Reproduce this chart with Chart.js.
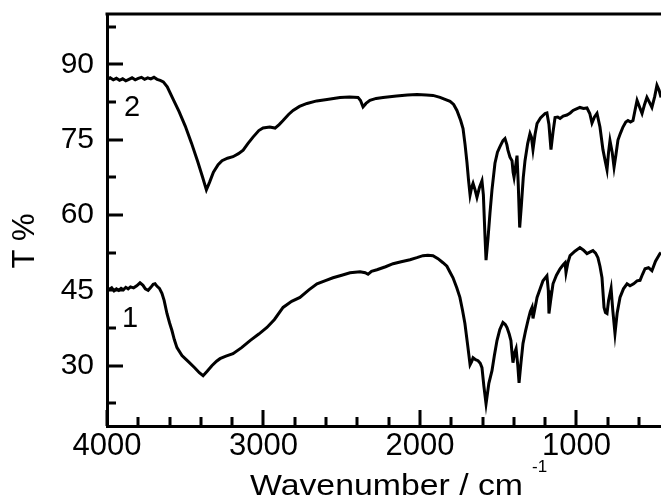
<!DOCTYPE html>
<html>
<head>
<meta charset="utf-8">
<title>IR spectra</title>
<script src="https://cdn.jsdelivr.net/npm/chart.js@4.4.1/dist/chart.umd.min.js"></script>
<style>
  html, body { margin: 0; padding: 0; background: #fff; }
  #wrap { width: 661px; height: 501px; }
</style>
</head>
<body>
<div id="wrap"><canvas id="ir"></canvas></div>
<script>
// spectrum 2 (upper)
const wn2 = [4000, 3980, 3960, 3940, 3920, 3900, 3880, 3860, 3840, 3820, 3800, 3780, 3760, 3740, 3720, 3700, 3680, 3660,
  3640, 3615, 3580, 3540, 3500, 3460, 3420, 3390, 3365, 3345, 3320, 3290, 3265, 3230, 3195, 3160, 3130, 3100, 3067, 3030,
  3003, 2960, 2926, 2900, 2875, 2840, 2811, 2770, 2722, 2660, 2594, 2511, 2450, 2396, 2380, 2364, 2345, 2320, 2280, 2236,
  2150, 2080, 2019, 1960, 1917, 1872, 1840, 1808, 1785, 1764, 1740, 1725, 1712, 1700, 1690, 1680, 1670, 1661, 1648, 1636,
  1620, 1604, 1595, 1585, 1578, 1565, 1553, 1540, 1521, 1505, 1489, 1470, 1457, 1445, 1438, 1425, 1412, 1405, 1399, 1390,
  1380, 1372, 1363, 1352, 1340, 1329, 1312, 1297, 1288, 1278, 1265, 1252, 1230, 1201, 1189, 1176, 1163, 1150, 1137, 1120,
  1105, 1085, 1061, 1040, 1022, 1000, 978, 955, 933, 915, 901, 885, 869, 850, 831, 815, 805, 795, 786, 772, 760, 748, 735,
  720, 703, 685, 671, 655, 639, 625, 613, 597, 581, 565, 550, 535, 518, 500, 486, 472, 460];
const t2 = [87.0, 87.3, 86.9, 87.2, 86.8, 87.1, 86.7, 87.0, 87.3, 86.9, 87.2, 87.4, 87.0, 87.3, 87.1, 87.4, 87.0, 86.8,
  86.5, 85.5, 83.2, 80.6, 77.7, 74.3, 70.6, 67.6, 65.0, 66.5, 68.5, 70.0, 70.8, 71.3, 71.6, 72.2, 72.9, 74.2, 75.5, 76.8,
  77.3, 77.5, 77.3, 78.0, 78.8, 80.0, 80.8, 81.6, 82.2, 82.7, 83.0, 83.4, 83.5, 83.4, 82.8, 81.5, 82.2, 82.8, 83.2, 83.4,
  83.7, 83.9, 84.0, 83.9, 83.8, 83.4, 83.0, 82.6, 82.0, 80.8, 78.8, 77.2, 74.0, 70.5, 67.0, 64.0, 65.5, 66.3, 65.0, 63.5,
  65.5, 66.8, 64.0, 56.0, 51.0, 55.5, 60.3, 65.0, 70.3, 72.5, 73.6, 74.8, 75.2, 74.0, 72.9, 71.5, 70.8, 68.5, 67.5, 69.5,
  71.8, 66.0, 57.5, 62.0, 67.5, 70.8, 74.2, 76.2, 75.5, 73.0, 76.0, 78.2, 79.3, 80.2, 80.3, 78.0, 73.0, 76.5, 79.4, 79.5,
  79.2, 79.7, 79.9, 80.3, 80.8, 81.1, 81.4, 81.2, 81.3, 80.2, 78.3, 79.5, 80.2, 77.5, 73.0, 70.5, 69.0, 72.5, 74.8, 72.5,
  69.5, 72.0, 74.9, 76.2, 77.5, 78.5, 78.8, 78.5, 78.8, 81.0, 82.8, 81.5, 80.2, 82.0, 83.4, 82.5, 81.4, 83.6, 85.8, 84.8,
  83.4];

// spectrum 1 (lower)
const wn1 = [4000, 3985, 3970, 3955, 3940, 3925, 3910, 3895, 3880, 3865, 3850, 3830, 3810, 3789, 3770, 3755, 3737, 3720,
  3705, 3693, 3680, 3665, 3649, 3635, 3617, 3600, 3585, 3570, 3553, 3521, 3480, 3440, 3410, 3386, 3360, 3330, 3300, 3278,
  3240, 3195, 3140, 3086, 3030, 2978, 2930, 2875, 2820, 2767, 2710, 2658, 2600, 2556, 2500, 2447, 2383, 2350, 2332, 2310,
  2275, 2220, 2172, 2120, 2064, 2020, 1981, 1950, 1917, 1885, 1853, 1828, 1808, 1789, 1765, 1745, 1728, 1713, 1695, 1680,
  1670, 1661, 1645, 1629, 1615, 1604, 1592, 1578, 1560, 1540, 1525, 1508, 1490, 1470, 1455, 1444, 1430, 1419, 1412, 1406,
  1396, 1386, 1375, 1367, 1355, 1342, 1325, 1310, 1295, 1284, 1278, 1265, 1252, 1230, 1214, 1189, 1180, 1176, 1165, 1150,
  1128, 1105, 1085, 1073, 1067, 1055, 1041, 1010, 978, 955, 933, 915, 895, 878, 863, 850, 837, 824, 815, 805, 795, 779,
  768, 754, 740, 722, 700, 677, 658, 635, 613, 594, 578, 562, 540, 518, 495, 467, 460];
const t1 = [45.6, 45.2, 45.5, 44.9, 45.3, 45.0, 45.4, 45.1, 45.6, 45.3, 45.7, 45.5, 45.9, 46.5, 46.0, 45.3, 45.0, 45.6,
  46.2, 46.3, 45.8, 45.4, 44.4, 43.0, 40.4, 38.5, 37.0, 35.2, 33.6, 32.0, 30.8, 29.6, 28.6, 28.0, 28.9, 30.0, 30.9, 31.4,
  31.9, 32.4, 33.6, 35.0, 36.3, 37.6, 39.2, 41.6, 42.8, 43.6, 45.1, 46.3, 47.0, 47.5, 48.0, 48.5, 48.7, 48.5, 48.2, 48.8,
  49.1, 49.7, 50.3, 50.7, 51.1, 51.5, 51.9, 52.0, 51.9, 51.3, 50.5, 49.8, 48.6, 47.5, 45.5, 43.6, 41.0, 38.4, 34.0, 30.2,
  30.8, 31.6, 31.2, 31.0, 30.5, 29.6, 26.0, 22.4, 26.5, 29.0, 32.0, 35.0, 37.2, 38.6, 38.2, 37.6, 36.3, 35.0, 32.5, 30.6,
  32.5, 33.4, 30.0, 26.6, 30.5, 34.4, 37.0, 39.0, 40.8, 41.6, 39.4, 41.5, 43.6, 45.5, 46.9, 47.9, 45.0, 40.4, 43.0, 46.3,
  48.0, 49.3, 50.1, 50.5, 48.5, 50.5, 51.9, 52.8, 53.5, 53.0, 52.3, 52.6, 52.9, 52.4, 51.5, 49.8, 47.5, 41.6, 40.6, 40.4,
  43.0, 45.4, 41.0, 36.4, 40.5, 43.6, 45.3, 46.3, 45.9, 46.3, 46.9, 47.0, 48.2, 49.3, 49.5, 48.9, 50.8, 52.3, 52.5];

// ticks
const xTicks = [4000, 3800, 3600, 3400, 3200, 3000, 2800, 2600, 2400, 2200, 2000, 1800, 1600, 1400, 1200, 1000, 800, 600];
const yTicks = [22.5, 30, 37.5, 45, 52.5, 60, 67.5, 75, 82.5, 90, 97.5];
const seriesLabels = ["1", "2"];

const FONT = '"Liberation Sans", Arial, sans-serif';

function toPoints(xs, ys) {
  return xs.map((x, i) => ({ x: x, y: ys[i] }));
}

// inward ticks, top frame line, axis titles, curve numbers
const decorPlugin = {
  id: "decor",
  afterDraw(chart) {
    const ctx = chart.ctx;
    const a = chart.chartArea;
    const xs = chart.scales.x;
    const ys = chart.scales.y;
    ctx.save();
    ctx.strokeStyle = "#000";
    ctx.lineWidth = 3;
    ctx.beginPath();
    xTicks.forEach((v) => {
      const px = Math.round(xs.getPixelForValue(v));
      const len = v % 1000 === 0 ? 16 : 9;
      ctx.moveTo(px, a.bottom);
      ctx.lineTo(px, a.bottom - len);
    });
    yTicks.forEach((v) => {
      const py = Math.round(ys.getPixelForValue(v));
      const len = v % 15 === 0 ? 16 : 9;
      ctx.moveTo(a.left, py);
      ctx.lineTo(a.left + len, py);
    });
    ctx.stroke();

    // top frame
    ctx.beginPath();
    ctx.moveTo(a.left - 1.5, a.top);
    ctx.lineTo(chart.width, a.top);
    ctx.stroke();

    ctx.fillStyle = "#000";
    // y title
    ctx.save();
    ctx.translate(25, 241);
    ctx.rotate(-Math.PI / 2);
    ctx.font = "31px " + FONT;
    ctx.textAlign = "center";
    ctx.textBaseline = "middle";
    ctx.fillText("T %", 0, 0);
    ctx.restore();

    // x title with superscript, stretched a little like the original
    const main = "Wavenumber / cm";
    ctx.font = "30px " + FONT;
    ctx.textBaseline = "alphabetic";
    ctx.textAlign = "left";
    const wMain = ctx.measureText(main).width;
    ctx.save();
    ctx.translate(250, 495);
    ctx.scale(273 / wMain, 1);
    ctx.fillText(main, 0, 0);
    ctx.restore();
    ctx.font = "17px " + FONT;
    ctx.fillText("-1", 532, 472);

    // curve numbers
    ctx.font = "29px " + FONT;
    ctx.textAlign = "center";
    ctx.textBaseline = "middle";
    ctx.fillText(seriesLabels[1], 132, 108);
    ctx.fillText(seriesLabels[0], 130, 319);
    ctx.restore();
  },
};

window.addEventListener("load", function () {
  const ctx = document.getElementById("ir").getContext("2d");
  new Chart(ctx, {
    type: "scatter",
    data: {
      datasets: [
        {
          label: seriesLabels[0],
          data: toPoints(wn1, t1),
          showLine: true,
          borderColor: "#000",
          borderWidth: 3,
          pointRadius: 0,
          tension: 0,
        },
        {
          label: seriesLabels[1],
          data: toPoints(wn2, t2),
          showLine: true,
          borderColor: "#000",
          borderWidth: 3,
          pointRadius: 0,
          tension: 0,
        },
      ],
    },
    options: {
      responsive: true,
      maintainAspectRatio: false,
      animation: false,
      layout: { padding: { top: 14, right: 0, left: 0, bottom: 0 } },
      plugins: {
        legend: { display: false },
        tooltip: { enabled: false },
      },
      scales: {
        x: {
          type: "linear",
          reverse: true,
          min: 460,
          max: 4000,
          grid: { display: false, drawTicks: false },
          border: { display: true, color: "#000", width: 3 },
          afterBuildTicks: (scale) => {
            scale.ticks = xTicks.map((v) => ({ value: v }));
          },
          afterFit: (scale) => {
            scale.height = 75;
            scale.paddingLeft = 0;
            scale.paddingRight = 0;
          },
          ticks: {
            autoSkip: false,
            maxRotation: 0,
            padding: 2,
            color: "#000",
            font: { family: FONT, size: 31 },
            callback: (v) => (v % 1000 === 0 ? String(v) : ""),
          },
        },
        y: {
          min: 18,
          max: 100,
          grid: { display: false, drawTicks: false },
          border: { display: true, color: "#000", width: 3 },
          afterBuildTicks: (scale) => {
            scale.ticks = yTicks.map((v) => ({ value: v }));
          },
          afterFit: (scale) => {
            scale.width = 107;
            scale.paddingTop = 0;
            scale.paddingBottom = 0;
          },
          ticks: {
            autoSkip: false,
            padding: 13,
            color: "#000",
            font: { family: FONT, size: 30 },
            callback: (v) => (v % 15 === 0 ? String(v) : ""),
          },
        },
      },
    },
    plugins: [decorPlugin],
  });
});
</script>
</body>
</html>
